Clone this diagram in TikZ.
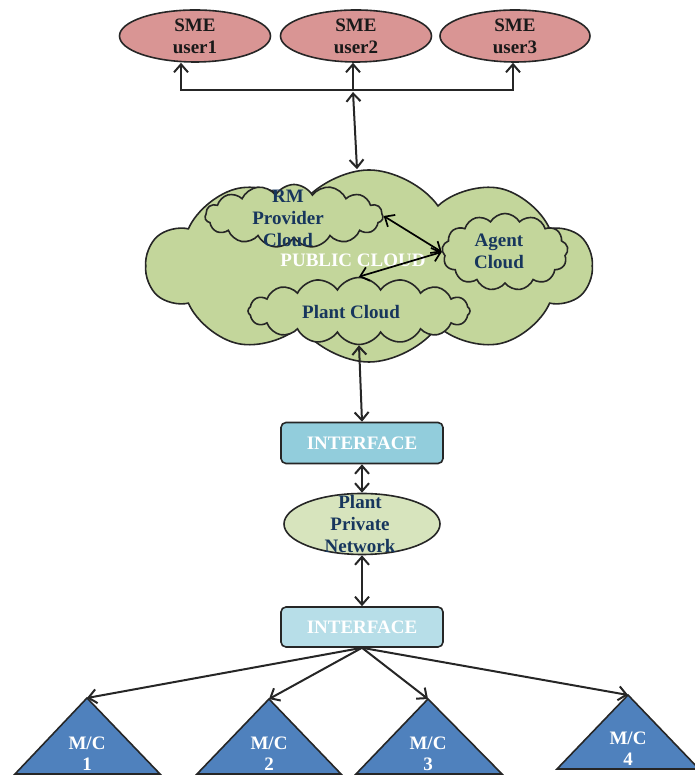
\documentclass[tikz,border=0pt]{standalone}
\usepackage{fontspec}
\setmainfont{Liberation Serif}
\usetikzlibrary{shapes.geometric,shapes.symbols,arrows.meta}
\definecolor{smered}{RGB}{217,149,148}
\definecolor{cloudgreen}{RGB}{195,214,155}
\definecolor{ppngreen}{RGB}{215,228,189}
\definecolor{ifblue}{RGB}{146,205,220}
\definecolor{ifpale}{RGB}{183,222,232}
\definecolor{mcblue}{RGB}{79,129,189}
\definecolor{navytext}{RGB}{23,54,93}
\definecolor{edge}{RGB}{38,38,38}
\begin{document}
\begin{tikzpicture}[x=1pt, y=1pt,
    every node/.style={font=\fontsize{19}{22}\selectfont\bfseries, align=center},
    >={Straight Barb[length=8pt,width=14pt]},
    user/.style={ellipse, draw=edge, line width=1.6pt, fill=smered, minimum width=151pt, minimum height=52pt, inner sep=0pt, text=black!90},
    puff/.style={cloud, draw=edge, line width=1.6pt, fill=cloudgreen, inner sep=0pt},
    iface/.style={rectangle, rounded corners=5pt, draw=edge, line width=1.6pt, minimum width=162pt, minimum height=41pt, text=white},
    link/.style={draw=edge, line width=2pt},
    mc/.style={draw=edge, line width=1.6pt, fill=mcblue}]
    % Frame
    \useasboundingbox (0,0) rectangle (694,775);
    % SME users
    \node[user] (u1) at (195,739) {SME\\user1};
    \node[user] (u2) at (356,739) {SME\\user2};
    \node[user, minimum width=150pt] (u3) at (515,739) {SME\\user3};
    % Public cloud with the three clouds in it
    \node[puff, cloud puffs=10, cloud puff arc=110, aspect=2.3, minimum width=445pt, minimum height=192pt] (pub) at (369,509) {};
    \node[white] (pubtxt) at (353,515) {PUBLIC CLOUD};
    \node[puff, cloud puffs=15, cloud puff arc=120, aspect=2.8, minimum width=178pt, minimum height=63pt] (rm) at (294,559) {};
    \node[text=navytext] (rmtxt) at (288,557) {RM\\Provider\\Cloud};
    \node[puff, cloud puffs=13, cloud puff arc=120, aspect=1.6, minimum width=126pt, minimum height=77pt] (agent) at (505,523) {};
    \node[text=navytext] (agenttxt) at (499,524) {Agent\\Cloud};
    \node[puff, cloud puffs=16, cloud puff arc=120, aspect=3.3, minimum width=222pt, minimum height=67pt] (plant) at (359,464) {};
    \node[text=navytext] (planttxt) at (351,463) {Plant Cloud};
    % Interfaces and plant network
    \node[iface, fill=ifblue] (if1) at (362,332) {INTERFACE};
    \node[ellipse, draw=edge, line width=1.6pt, fill=ppngreen, minimum width=156pt, minimum height=61pt] (ppn) at (362,251) {};
    \node[text=navytext] (ppntxt) at (360,251) {Plant\\Private\\Network};
    \node[iface, fill=ifpale, minimum height=40pt] (if2) at (362,148) {INTERFACE};
    % Machines
    \foreach \n/\ax/\ay/\bl/\br/\by in {1/87/77/15/160/1, 2/269/76/197/341/1, 3/428/76/356/502/1, 4/628/80/557/699/6} {
        \coordinate (mc\n) at (\ax,\ay);
        \draw[mc] (\bl,\by) -- (mc\n) -- (\br,\by) -- cycle;
        \node[white, font=\fontsize{19}{21}\selectfont\bfseries] (mctxt\n) at (\ax,\by+20) {M/C\\\n};
        \draw[link, ->] (if2.south) -- (mc\n);
    }
    % Connectors
    \coordinate (hub) at (353,685);
    \draw[link, <->] ([xshift=-14pt]u1.south) |- (hub) -| ([xshift=-2pt]u3.south);
    \draw[link, ->] (hub) -- ([xshift=-3pt]u2.south);
    \draw[link, <->] ([yshift=-2pt]hub) -- ([xshift=-12pt]pub.north);
    \draw[line width=1.7pt, <->] (rm.east) -- (agent.west);
    \draw[line width=1.7pt, <->] (agent.west) -- (plant.north);
    \draw[link, <->] (plant.south) -- (if1.north);
    \draw[link, <->] (if1.south) -- (ppn.north);
    \draw[link, <->] (ppn.south) -- (if2.north);
\end{tikzpicture}
\end{document}
